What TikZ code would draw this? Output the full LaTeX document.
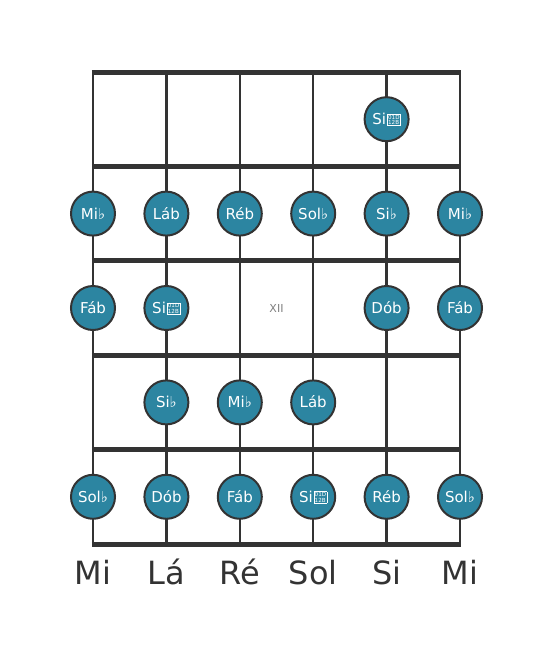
\documentclass[tikz,border=0pt]{standalone}
\usepackage{fontspec}
\setmainfont{DejaVu Sans}
\usetikzlibrary{positioning}
\newcommand*{\xLeft}{93}
\newcommand*{\yTop}{72}
\newcommand*{\dx}{73.4}
\newcommand*{\dy}{94.4}
\definecolor{fretgray}{HTML}{333333}
\definecolor{notefill}{HTML}{2C85A1}
% tofu box for the double flat glyph the font does not have
\newcommand*{\dflat}{\kern0.8pt\fboxsep=0.6pt\fboxrule=0.6pt\fbox{%
    \vbox{\fontsize{5.6}{5.6}\selectfont\baselineskip=5.6pt\hbox{01D}\hbox{12B}}}}
\tikzset{fretstyle/.style={
    draw=fretgray,
    line width=5pt
  },
  stringstyle/.style={
    draw=fretgray,
    line width=2.3pt
  },
  notestyle/.style={
    circle,
    draw=fretgray,
    line width=2pt,
    fill=notefill,
    text=white,
    minimum size=44pt,
    inner sep=0pt,
    text height=11pt,
    text depth=0pt,
    font=\fontsize{15}{15}\selectfont
  },
  openstyle/.style={
    text=fretgray,
    anchor=base,
    inner sep=0pt,
    font=\fontsize{32}{32}\selectfont
  }
}

\begin{document}
\begin{tikzpicture}[x=1pt,y=-1pt]
    \useasboundingbox (0,0) rectangle (553,656);
    \foreach \i in {0,...,5} {
        \draw [stringstyle] (\xLeft+\dx*\i,\yTop) -- (\xLeft+\dx*\i,\yTop+\dy*5);
    }
    \foreach \j in {0,...,5} {
        \draw [fretstyle] (\xLeft-1.25,\yTop+\dy*\j) -- (\xLeft+\dx*5+1.25,\yTop+\dy*\j);
    }
    \node [text=gray, font=\fontsize{11}{11}\selectfont] (xii) at (\xLeft+\dx*2.5,\yTop+\dy*2.5) {XII};
    % notes: string / fret / text
    \foreach \s/\r/\txt in {4/1/Si\dflat,
        0/2/Mi♭, 1/2/Láb, 2/2/Réb, 3/2/Sol♭, 4/2/Si♭, 5/2/Mi♭,
        0/3/Fáb, 1/3/Si\dflat, 4/3/Dób, 5/3/Fáb,
        1/4/Si♭, 2/4/Mi♭, 3/4/Láb,
        0/5/Sol♭, 1/5/Dób, 2/5/Fáb, 3/5/Si\dflat, 4/5/Réb, 5/5/Sol♭} {
        \node [notestyle] (n\r\s) at (\xLeft+\dx*\s,\yTop+\dy*\r-\dy/2) {\txt};
    }
    \foreach \i/\txt in {0/Mi, 1/Lá, 2/Ré, 3/Sol, 4/Si, 5/Mi} {
        \node [openstyle] (open\i) at (\xLeft+\dx*\i,584) {\txt};
    }
\end{tikzpicture}
\end{document}
